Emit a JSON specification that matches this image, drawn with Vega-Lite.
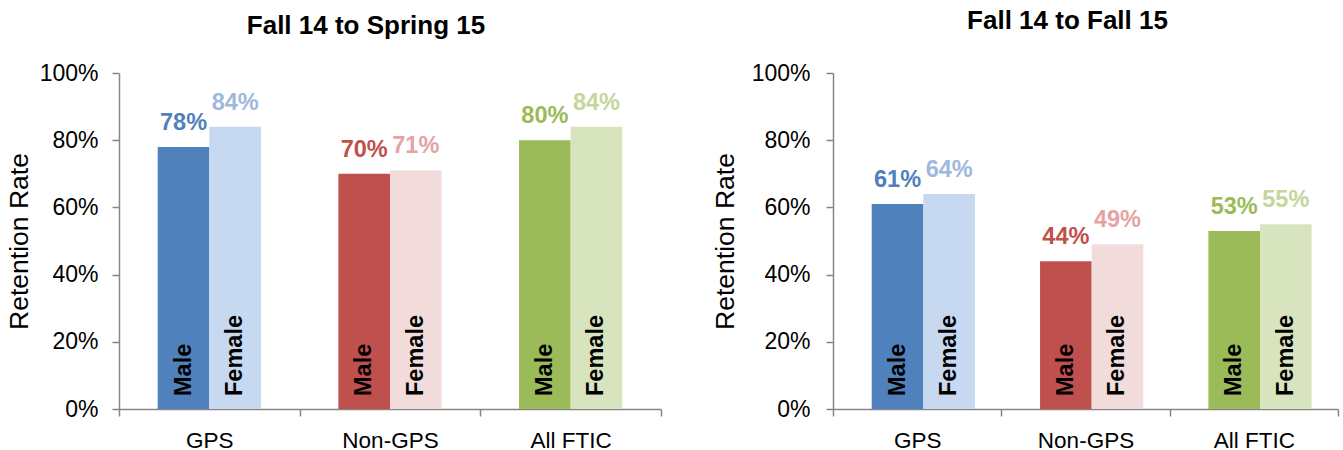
{
  "$schema": "https://vega.github.io/schema/vega-lite/v6.json",
  "background": "white",
  "padding": {"left": 6, "top": 8, "right": 2, "bottom": 0},
  "align": "none",
  "spacing": 50,
  "config": {
    "view": {"stroke": null},
    "font": "Liberation Sans",
    "axis": {
      "labelFont": "Liberation Sans",
      "titleFont": "Liberation Sans",
      "labelColor": "#000000",
      "titleColor": "#000000",
      "domainColor": "#868686",
      "tickColor": "#868686",
      "domainWidth": 1.5,
      "tickWidth": 1.5,
      "grid": false,
      "labelFontSize": 23,
      "titleFontSize": 26.5,
      "titleFontWeight": "normal"
    },
    "title": {"font": "Liberation Sans", "fontSize": 26, "fontWeight": "bold", "color": "#000000"}
  },
  "hconcat": [
    {
      "title": {"text": "Fall 14 to Spring 15", "frame": "group", "anchor": "middle", "dx": -24, "offset": 23},
      "width": 542,
      "height": 336,
      "data": {
        "values": [
          {"cohort": "GPS", "gender": "Male", "series": "GPS Male", "rate": 0.78},
          {"cohort": "GPS", "gender": "Female", "series": "GPS Female", "rate": 0.84},
          {"cohort": "Non-GPS", "gender": "Male", "series": "Non-GPS Male", "rate": 0.70},
          {"cohort": "Non-GPS", "gender": "Female", "series": "Non-GPS Female", "rate": 0.71},
          {"cohort": "All FTIC", "gender": "Male", "series": "All FTIC Male", "rate": 0.80},
          {"cohort": "All FTIC", "gender": "Female", "series": "All FTIC Female", "rate": 0.84}
        ]
      },
      "encoding": {
        "x": {
          "field": "cohort", "type": "nominal", "sort": ["GPS", "Non-GPS", "All FTIC"],
          "scale": {"paddingInner": 0, "paddingOuter": 0},
          "axis": {"title": null, "labelAngle": 0, "labelFontSize": 22.5, "tickBand": "extent", "tickSize": 7, "labelPadding": 13}
        },
        "xOffset": {
          "field": "gender", "type": "nominal", "sort": ["Male", "Female"],
          "scale": {"paddingInner": 0, "paddingOuter": 0.75}
        },
        "y": {
          "field": "rate", "type": "quantitative",
          "scale": {"domain": [0, 1]},
          "axis": {"title": "Retention Rate", "values": [0, 0.2, 0.4, 0.6, 0.8, 1], "format": ".0%", "tickSize": 7, "labelPadding": 14, "titlePadding": 6}
        }
      },
      "layer": [
        {
          "mark": {"type": "bar"},
          "encoding": {
            "color": {
              "field": "series", "type": "nominal", "legend": null,
              "scale": {
                "domain": ["GPS Male", "GPS Female", "Non-GPS Male", "Non-GPS Female", "All FTIC Male", "All FTIC Female"],
                "range": ["#4F81BD", "#C6D9F1", "#C0504D", "#F2DCDB", "#9BBB59", "#D7E4BD"]
              }
            }
          }
        },
        {
          "mark": {"type": "text", "fontSize": 23.5, "fontWeight": "bold", "baseline": "alphabetic", "dy": -17},
          "encoding": {
            "text": {"field": "rate", "type": "quantitative", "format": ".0%"},
            "color": {
              "field": "series", "type": "nominal", "legend": null,
              "scale": {
                "domain": ["GPS Male", "GPS Female", "Non-GPS Male", "Non-GPS Female", "All FTIC Male", "All FTIC Female"],
                "range": ["#4F81BD", "#9DB9DE", "#C0504D", "#E6A3A1", "#9BBB59", "#C3D69B"]
              }
            }
          }
        },
        {
          "mark": {"type": "text", "fontSize": 23.5, "fontWeight": "bold", "angle": 270, "align": "left", "baseline": "middle", "dx": 13, "color": "#000000"},
          "encoding": {
            "y": {"datum": 0},
            "text": {"field": "gender", "type": "nominal"}
          }
        }
      ],
      "resolve": {"scale": {"color": "independent"}}
    },
    {
      "title": {"text": "Fall 14 to Fall 15", "frame": "group", "anchor": "middle", "dx": -18, "offset": 28},
      "width": 505,
      "height": 336,
      "data": {
        "values": [
          {"cohort": "GPS", "gender": "Male", "series": "GPS Male", "rate": 0.61},
          {"cohort": "GPS", "gender": "Female", "series": "GPS Female", "rate": 0.64},
          {"cohort": "Non-GPS", "gender": "Male", "series": "Non-GPS Male", "rate": 0.44},
          {"cohort": "Non-GPS", "gender": "Female", "series": "Non-GPS Female", "rate": 0.49},
          {"cohort": "All FTIC", "gender": "Male", "series": "All FTIC Male", "rate": 0.53},
          {"cohort": "All FTIC", "gender": "Female", "series": "All FTIC Female", "rate": 0.55}
        ]
      },
      "encoding": {
        "x": {
          "field": "cohort", "type": "nominal", "sort": ["GPS", "Non-GPS", "All FTIC"],
          "scale": {"paddingInner": 0, "paddingOuter": 0},
          "axis": {"title": null, "labelAngle": 0, "labelFontSize": 22.5, "tickBand": "extent", "tickSize": 7, "labelPadding": 13}
        },
        "xOffset": {
          "field": "gender", "type": "nominal", "sort": ["Male", "Female"],
          "scale": {"paddingInner": 0, "paddingOuter": 0.75}
        },
        "y": {
          "field": "rate", "type": "quantitative",
          "scale": {"domain": [0, 1]},
          "axis": {"title": "Retention Rate", "values": [0, 0.2, 0.4, 0.6, 0.8, 1], "format": ".0%", "tickSize": 7, "labelPadding": 16, "titlePadding": 12}
        }
      },
      "layer": [
        {
          "mark": {"type": "bar"},
          "encoding": {
            "color": {
              "field": "series", "type": "nominal", "legend": null,
              "scale": {
                "domain": ["GPS Male", "GPS Female", "Non-GPS Male", "Non-GPS Female", "All FTIC Male", "All FTIC Female"],
                "range": ["#4F81BD", "#C6D9F1", "#C0504D", "#F2DCDB", "#9BBB59", "#D7E4BD"]
              }
            }
          }
        },
        {
          "mark": {"type": "text", "fontSize": 23.5, "fontWeight": "bold", "baseline": "alphabetic", "dy": -17},
          "encoding": {
            "text": {"field": "rate", "type": "quantitative", "format": ".0%"},
            "color": {
              "field": "series", "type": "nominal", "legend": null,
              "scale": {
                "domain": ["GPS Male", "GPS Female", "Non-GPS Male", "Non-GPS Female", "All FTIC Male", "All FTIC Female"],
                "range": ["#4F81BD", "#9DB9DE", "#C0504D", "#E6A3A1", "#9BBB59", "#C3D69B"]
              }
            }
          }
        },
        {
          "mark": {"type": "text", "fontSize": 23.5, "fontWeight": "bold", "angle": 270, "align": "left", "baseline": "middle", "dx": 13, "color": "#000000"},
          "encoding": {
            "y": {"datum": 0},
            "text": {"field": "gender", "type": "nominal"}
          }
        }
      ],
      "resolve": {"scale": {"color": "independent"}}
    }
  ]
}
